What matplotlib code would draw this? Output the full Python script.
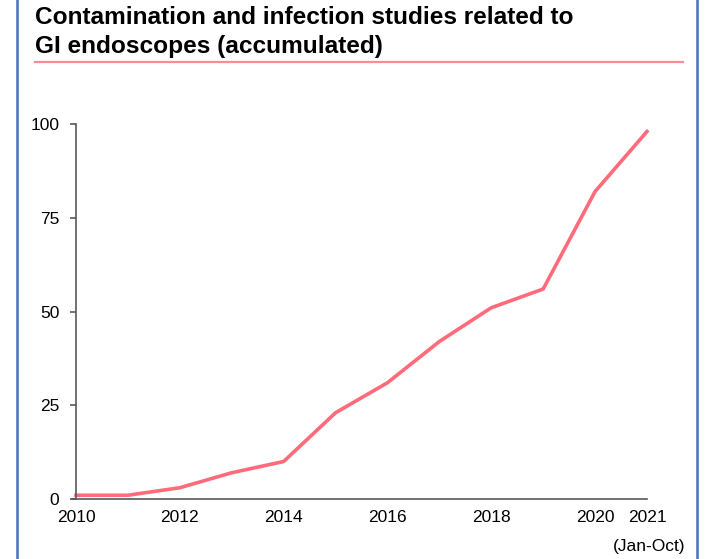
import matplotlib
matplotlib.use("Agg")
import matplotlib.pyplot as plt
from matplotlib.lines import Line2D

plt.rcParams['font.family'] = ['Liberation Sans', 'DejaVu Sans']

years = [2010, 2011, 2012, 2013, 2014, 2015, 2016, 2017, 2018, 2019, 2020, 2021]
studies = [1, 1, 3, 7, 10, 23, 31, 42, 51, 56, 82, 98]
xtick_years = [2010, 2012, 2014, 2016, 2018, 2020, 2021]
ytick_values = [0, 25, 50, 75, 100]

W, H = 709, 559
fig = plt.figure(figsize=(W / 100, H / 100), dpi=100)

# axes box in pixel coordinates
left, right, top, bottom = 76, 647, 124, 499
ax = fig.add_axes([left / W, 1 - bottom / H, (right - left) / W, (bottom - top) / H])

ax.plot(years, studies, color='#ff6b7a', lw=2.6, solid_joinstyle='round', clip_on=False)
ax.set_xlim(2010, 2021)
ax.set_ylim(0, 100)

ax.set_yticks(ytick_values)
ax.set_yticklabels([str(v) for v in ytick_values], fontsize=12.5)
ax.set_xticks(xtick_years)
ax.set_xticklabels([str(y) for y in xtick_years], fontsize=12.5)
ax.tick_params(axis='x', length=0, pad=8)
ax.tick_params(axis='y', length=4, width=1.2, color='#595959', pad=8)

for s in ['top', 'right']:
    ax.spines[s].set_visible(False)
for s in ['left', 'bottom']:
    ax.spines[s].set_color('#595959')
    ax.spines[s].set_linewidth(1.2)
ax.spines['bottom'].set_bounds(2010 - 0.08, 2021)

fig.text(685 / W, 1 - 547 / H, '(Jan-Oct)', fontsize=12.5, ha='right', va='center')

# title and underline
fig.text(35 / W, 1 - 17 / H, 'Contamination and infection studies related to',
         fontsize=17.6, fontweight='bold', ha='left', va='center')
fig.text(35 / W, 1 - 46 / H, 'GI endoscopes (accumulated)',
         fontsize=17.6, fontweight='bold', ha='left', va='center')
fig.add_artist(Line2D([35 / W, 683 / W], [1 - 62 / H, 1 - 62 / H],
                      color='#ff8a94', lw=1.6, transform=fig.transFigure))

# frame edges
for xb in (17, 697):
    fig.add_artist(Line2D([xb / W, xb / W], [0, 1], color='#4472c4', lw=1.8,
                          transform=fig.transFigure))

fig.savefig('out.png', dpi=100)
